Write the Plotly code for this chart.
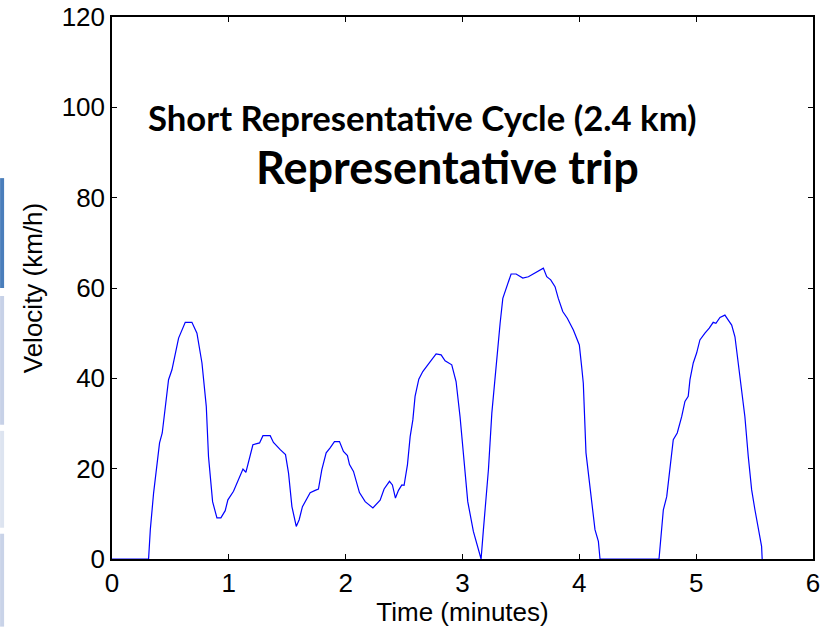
import plotly.graph_objects as go

# Time (minutes) and velocity (km/h)
time_min = [0.0, 0.313, 0.328, 0.356, 0.407, 0.430, 0.484, 0.513, 0.570, 0.627, 0.684,
            0.727, 0.770, 0.807, 0.826, 0.861, 0.898, 0.932, 0.969, 0.992, 1.040,
            1.078, 1.121, 1.146, 1.169, 1.206, 1.263, 1.292, 1.354, 1.382, 1.440,
            1.485, 1.511, 1.540, 1.577, 1.602, 1.630, 1.668, 1.696, 1.739, 1.767,
            1.796, 1.833, 1.867, 1.904, 1.947, 1.981, 2.015, 2.033, 2.067, 2.118,
            2.167, 2.233, 2.295, 2.329, 2.375, 2.400, 2.426, 2.452, 2.481, 2.500,
            2.529, 2.552, 2.575, 2.594, 2.626, 2.660, 2.703, 2.774, 2.817, 2.851,
            2.908, 2.945, 2.979, 3.008, 3.045, 3.093, 3.122, 3.159, 3.179, 3.222,
            3.251, 3.287, 3.299, 3.322, 3.345, 3.379, 3.416, 3.459, 3.516, 3.564,
            3.601, 3.649, 3.692, 3.721, 3.755, 3.792, 3.820, 3.858, 3.897, 3.949,
            3.978, 4.000, 4.021, 4.034, 4.057, 4.100, 4.134, 4.163, 4.177, 4.682,
            4.719, 4.748, 4.776, 4.804, 4.838, 4.876, 4.904, 4.932, 4.947, 4.975,
            5.004, 5.032, 5.075, 5.112, 5.146, 5.169, 5.204, 5.246, 5.275, 5.304,
            5.332, 5.360, 5.389, 5.417, 5.446, 5.475, 5.503, 5.531, 5.560, 5.565]

velocity_kmh = [0.0, 0.0, 6.5, 14.6, 25.7, 27.9, 39.7, 41.9, 48.9, 52.4, 52.4,
                50.0, 43.4, 33.8, 22.7, 12.7, 9.1, 9.1, 10.7, 13.1, 15.0,
                17.5, 19.9, 19.2, 21.6, 25.3, 25.7, 27.3, 27.3, 25.8, 24.2,
                23.1, 19.0, 11.6, 7.2, 8.7, 11.6, 13.5, 14.7, 15.2, 15.5,
                19.8, 23.5, 24.6, 26.0, 26.0, 23.8, 22.9, 20.9, 19.4, 14.7,
                12.7, 11.3, 13.0, 15.5, 17.2, 16.4, 13.5, 15.2, 16.4, 16.3,
                20.9, 27.1, 30.8, 36.0, 39.8, 41.5, 43.0, 45.4, 45.2, 43.9,
                43.0, 39.3, 31.5, 22.7, 12.7, 6.1, 3.5, 0.0, 6.5, 19.8,
                32.3, 42.3, 47.0, 52.2, 57.7, 60.3, 63.1, 63.1, 62.2, 62.5,
                63.1, 63.8, 64.4, 62.5, 61.8, 60.3, 57.7, 54.8, 53.3, 50.7,
                48.9, 47.4, 42.3, 38.9, 23.5, 13.8, 6.5, 3.9, 0.0, 0.0,
                10.9, 13.8, 19.8, 26.4, 27.9, 31.5, 34.9, 36.0, 39.7, 43.4,
                45.6, 48.5, 50.0, 51.1, 52.4, 52.2, 53.5, 54.0, 52.9, 51.8,
                49.2, 43.4, 38.2, 31.5, 22.7, 15.3, 10.9, 6.5, 2.8, 0.0]

x_ticks = [0, 1, 2, 3, 4, 5, 6]
y_ticks = [0, 20, 40, 60, 80, 100, 120]

title_line1 = "Short Representative Cycle (2.4 km)"
title_line2 = "Representative trip"

fig = go.Figure()
fig.add_trace(go.Scatter(x=time_min, y=velocity_kmh, mode="lines",
                         line=dict(color="#0000FF", width=1.2),
                         showlegend=False, hoverinfo="skip"))

axis_font = dict(family="Liberation Sans, Arial, sans-serif", size=26, color="black")

fig.update_xaxes(range=[0, 6], tickvals=x_ticks, ticks="inside", ticklen=5,
                 tickcolor="black", mirror="allticks", showline=True,
                 linecolor="black", linewidth=1.5, showgrid=False, zeroline=False,
                 tickfont=axis_font, automargin=False,
                 title=dict(text="Time (minutes)", font=axis_font, standoff=0))
fig.update_yaxes(range=[0, 120], tickvals=y_ticks, ticks="inside", ticklen=5,
                 tickcolor="black", mirror="allticks", showline=True,
                 linecolor="black", linewidth=1.5, showgrid=False, zeroline=False,
                 tickfont=axis_font, automargin=False,
                 title=dict(text="Velocity (km/h)", font=axis_font, standoff=12))

title_font = "Lato, Carlito, Calibri, sans-serif"
fig.add_annotation(x=0.443, y=0.815, xref="paper", yref="paper",
                   xanchor="center", yanchor="middle",
                   text="<b>" + title_line1 + "</b>", showarrow=False,
                   font=dict(family=title_font, size=34.7, color="black"))
fig.add_annotation(x=0.479, y=0.723, xref="paper", yref="paper",
                   xanchor="center", yanchor="middle",
                   text="<b>" + title_line2 + "</b>", showarrow=False,
                   font=dict(family=title_font, size=45, color="black"))

# slide-edge strips on the left of the picture
strips = [(178, 288, "#4A7EBB"), (296, 425, "#C7D1E7"),
          (431, 528, "#DDE4F0"), (534, 627, "#C9D3E8")]
for top, bottom, col in strips:
    fig.add_shape(type="rect", xref="paper", yref="paper",
                  x0=-112 / 701.6, x1=-108 / 701.6,
                  y0=(559.3 - bottom) / 542.6, y1=(559.3 - top) / 542.6,
                  fillcolor=col, line=dict(width=0), layer="below")

fig.update_layout(width=823, height=627,
                  margin=dict(l=112, r=10, t=17, b=68),
                  paper_bgcolor="white", plot_bgcolor="white")

fig.write_html("out.html")
